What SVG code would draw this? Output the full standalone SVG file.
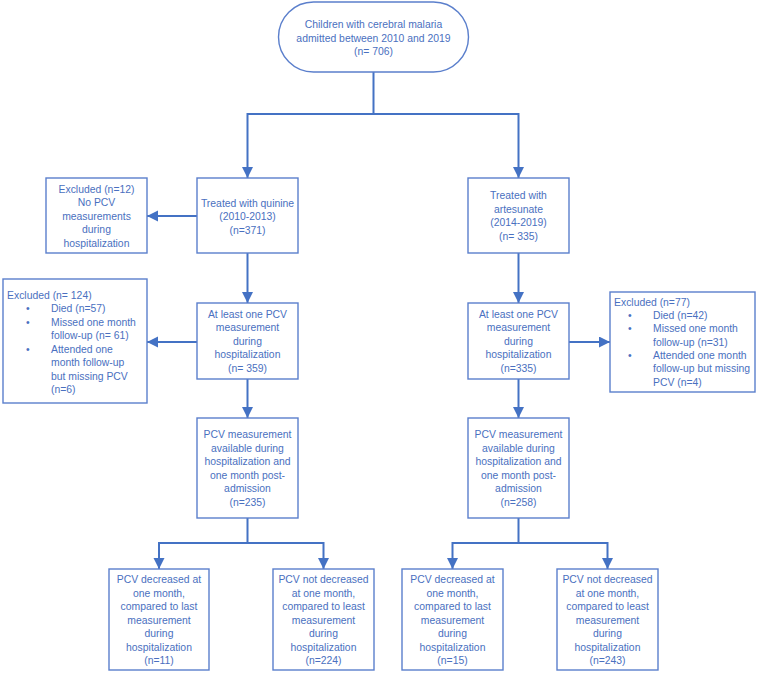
<svg xmlns="http://www.w3.org/2000/svg" width="757" height="673" viewBox="0 0 757 673">
<style>
.box{fill:#fff;stroke:#5b7fcc;stroke-width:1.4}
.t{font-family:"Liberation Sans",Arial,sans-serif;font-size:10.4px;fill:#4a70c0}
.c{text-anchor:middle}
.ln{fill:none;stroke:#4472c4;stroke-width:2}
</style>
<defs>
<marker id="ah" markerUnits="userSpaceOnUse" markerWidth="12" markerHeight="12" refX="11" refY="5.5" orient="auto">
<path d="M0,0 L11,5.5 L0,11 z" fill="#4472c4"/>
</marker>
</defs>
<rect width="757" height="673" fill="#fff"/>
<g id="connectors">
<path class="ln" d="M373.5,72 V114 H247.5 V178" marker-end="url(#ah)"/>
<path class="ln" d="M373.5,114 H518.5 V178" marker-end="url(#ah)"/>
<path class="ln" d="M197,216 H147" marker-end="url(#ah)"/>
<path class="ln" d="M247.5,253 V303" marker-end="url(#ah)"/>
<path class="ln" d="M518.5,253 V303" marker-end="url(#ah)"/>
<path class="ln" d="M197,342 H147" marker-end="url(#ah)"/>
<path class="ln" d="M569,342 H610" marker-end="url(#ah)"/>
<path class="ln" d="M247.5,379 V418" marker-end="url(#ah)"/>
<path class="ln" d="M518.5,379 V418" marker-end="url(#ah)"/>
<path class="ln" d="M247.5,518 V543 H159 V569" marker-end="url(#ah)"/>
<path class="ln" d="M247.5,543 H323.5 V569" marker-end="url(#ah)"/>
<path class="ln" d="M518.5,518 V543 H452.5 V569" marker-end="url(#ah)"/>
<path class="ln" d="M518.5,543 H607.5 V569" marker-end="url(#ah)"/>
</g>
<g id="start">
<rect class="box" x="278.5" y="2" width="190" height="70" rx="35" ry="35"/>
<text class="t c" x="373.5" y="28">Children with cerebral malaria</text>
<text class="t c" x="373.5" y="41.5">admitted between 2010 and 2019</text>
<text class="t c" x="373.5" y="55">(n= 706)</text>
</g>
<g id="quinine">
<rect class="box" x="197" y="178" width="101" height="75"/>
<text class="t c" x="247.5" y="206.5">Treated with quinine</text>
<text class="t c" x="247.5" y="220">(2010-2013)</text>
<text class="t c" x="247.5" y="233.5">(n=371)</text>
</g>
<g id="excluded12">
<rect class="box" x="46" y="178" width="101" height="75"/>
<text class="t c" x="96.5" y="192.5">Excluded (n=12)</text>
<text class="t c" x="96.5" y="206">No PCV</text>
<text class="t c" x="96.5" y="219.5">measurements</text>
<text class="t c" x="96.5" y="233">during</text>
<text class="t c" x="96.5" y="246.5">hospitalization</text>
</g>
<g id="artesunate">
<rect class="box" x="468" y="178" width="101" height="75"/>
<text class="t c" x="518.5" y="199">Treated with</text>
<text class="t c" x="518.5" y="212.5">artesunate</text>
<text class="t c" x="518.5" y="226">(2014-2019)</text>
<text class="t c" x="518.5" y="239.5">(n= 335)</text>
</g>
<g id="pcv1-left">
<rect class="box" x="197" y="303" width="101" height="76"/>
<text class="t c" x="247.5" y="317.5">At least one PCV</text>
<text class="t c" x="247.5" y="331">measurement</text>
<text class="t c" x="247.5" y="344.5">during</text>
<text class="t c" x="247.5" y="358">hospitalization</text>
<text class="t c" x="247.5" y="371.5">(n= 359)</text>
</g>
<g id="pcv1-right">
<rect class="box" x="468" y="303" width="101" height="76"/>
<text class="t c" x="518.5" y="317.5">At least one PCV</text>
<text class="t c" x="518.5" y="331">measurement</text>
<text class="t c" x="518.5" y="344.5">during</text>
<text class="t c" x="518.5" y="358">hospitalization</text>
<text class="t c" x="518.5" y="371.5">(n=335)</text>
</g>
<g id="excluded124">
<rect class="box" x="3" y="279" width="144" height="124"/>
<text class="t" x="7" y="298.5">Excluded (n= 124)</text>
<text class="t" x="26" y="312">•</text>
<text class="t" x="51" y="312">Died (n=57)</text>
<text class="t" x="26" y="325.5">•</text>
<text class="t" x="51" y="325.5">Missed one month</text>
<text class="t" x="51" y="339">follow-up (n= 61)</text>
<text class="t" x="26" y="352.5">•</text>
<text class="t" x="51" y="352.5">Attended one</text>
<text class="t" x="51" y="366">month follow-up</text>
<text class="t" x="51" y="379.5">but missing PCV</text>
<text class="t" x="51" y="393">(n=6)</text>
</g>
<g id="excluded77">
<rect class="box" x="610" y="292" width="145" height="100"/>
<text class="t" x="614" y="305.5">Excluded (n=77)</text>
<text class="t" x="628" y="318.5">•</text>
<text class="t" x="653" y="318.5">Died (n=42)</text>
<text class="t" x="628" y="332">•</text>
<text class="t" x="653" y="332">Missed one month</text>
<text class="t" x="653" y="345.5">follow-up (n=31)</text>
<text class="t" x="628" y="358.5">•</text>
<text class="t" x="653" y="358.5">Attended one month</text>
<text class="t" x="653" y="372">follow-up but missing</text>
<text class="t" x="653" y="385.5">PCV (n=4)</text>
</g>
<g id="pcv2-left">
<rect class="box" x="197" y="418" width="101" height="100"/>
<text class="t c" x="247.5" y="438">PCV measurement</text>
<text class="t c" x="247.5" y="451.5">available during</text>
<text class="t c" x="247.5" y="465">hospitalization and</text>
<text class="t c" x="247.5" y="478.5">one month post-</text>
<text class="t c" x="247.5" y="492">admission</text>
<text class="t c" x="247.5" y="505.5">(n=235)</text>
</g>
<g id="pcv2-right">
<rect class="box" x="468" y="418" width="101" height="100"/>
<text class="t c" x="518.5" y="438">PCV measurement</text>
<text class="t c" x="518.5" y="451.5">available during</text>
<text class="t c" x="518.5" y="465">hospitalization and</text>
<text class="t c" x="518.5" y="478.5">one month post-</text>
<text class="t c" x="518.5" y="492">admission</text>
<text class="t c" x="518.5" y="505.5">(n=258)</text>
</g>
<g id="q-decreased">
<rect class="box" x="109" y="569" width="100" height="101"/>
<text class="t c" x="159" y="583">PCV decreased at</text>
<text class="t c" x="159" y="596.5">one month,</text>
<text class="t c" x="159" y="610">compared to last</text>
<text class="t c" x="159" y="623.5">measurement</text>
<text class="t c" x="159" y="637">during</text>
<text class="t c" x="159" y="650.5">hospitalization</text>
<text class="t c" x="159" y="664">(n=11)</text>
</g>
<g id="q-not-decreased">
<rect class="box" x="273" y="569" width="101" height="101"/>
<text class="t c" x="323.5" y="583">PCV not decreased</text>
<text class="t c" x="323.5" y="596.5">at one month,</text>
<text class="t c" x="323.5" y="610">compared to least</text>
<text class="t c" x="323.5" y="623.5">measurement</text>
<text class="t c" x="323.5" y="637">during</text>
<text class="t c" x="323.5" y="650.5">hospitalization</text>
<text class="t c" x="323.5" y="664">(n=224)</text>
</g>
<g id="a-decreased">
<rect class="box" x="402" y="569" width="101" height="101"/>
<text class="t c" x="452.5" y="583">PCV decreased at</text>
<text class="t c" x="452.5" y="596.5">one month,</text>
<text class="t c" x="452.5" y="610">compared to last</text>
<text class="t c" x="452.5" y="623.5">measurement</text>
<text class="t c" x="452.5" y="637">during</text>
<text class="t c" x="452.5" y="650.5">hospitalization</text>
<text class="t c" x="452.5" y="664">(n=15)</text>
</g>
<g id="a-not-decreased">
<rect class="box" x="557" y="569" width="101" height="101"/>
<text class="t c" x="607.5" y="583">PCV not decreased</text>
<text class="t c" x="607.5" y="596.5">at one month,</text>
<text class="t c" x="607.5" y="610">compared to least</text>
<text class="t c" x="607.5" y="623.5">measurement</text>
<text class="t c" x="607.5" y="637">during</text>
<text class="t c" x="607.5" y="650.5">hospitalization</text>
<text class="t c" x="607.5" y="664">(n=243)</text>
</g>
</svg>
